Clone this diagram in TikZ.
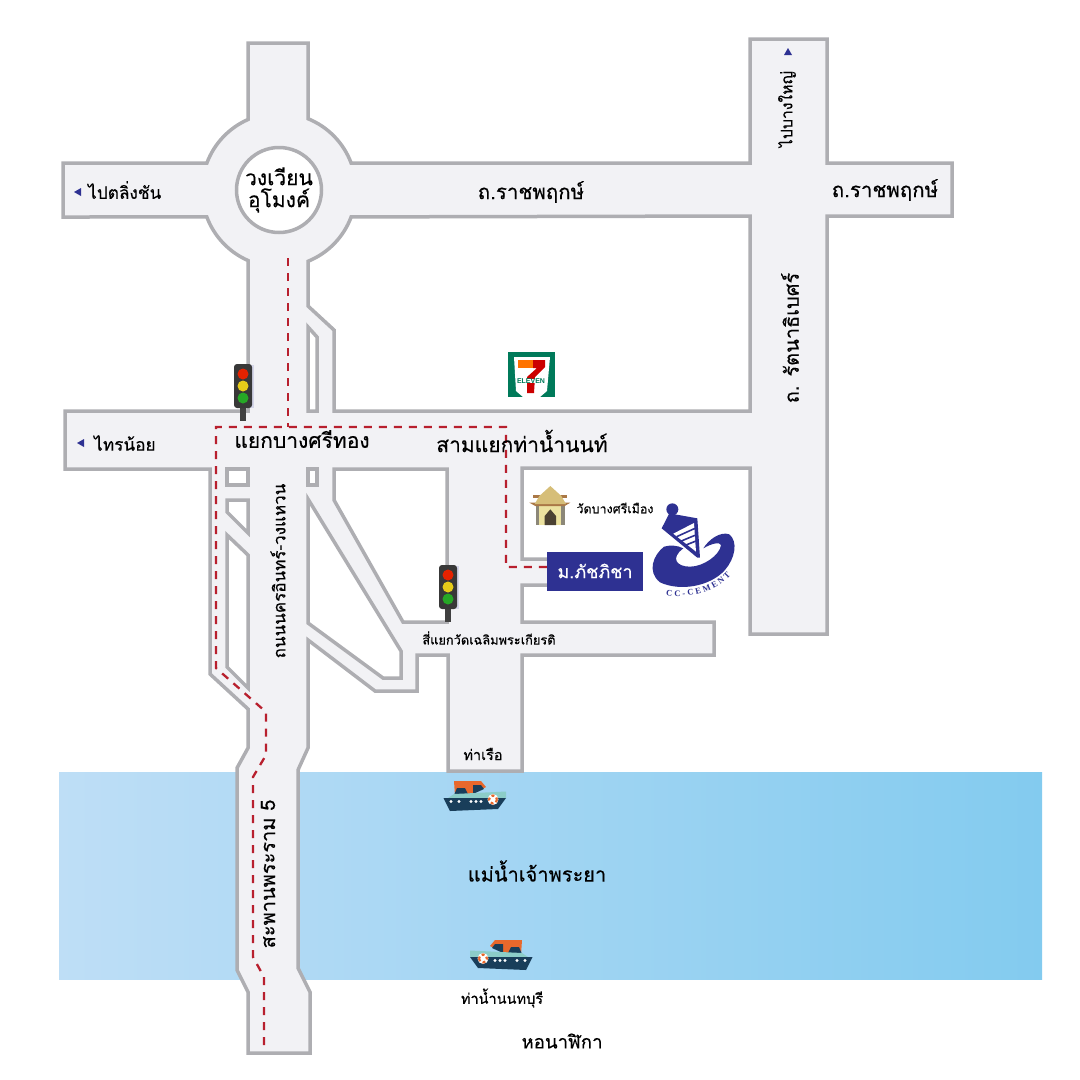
\documentclass[tikz,border=0pt]{standalone}
\usepackage{fontspec}
\setmainfont[Script=Thai,RawFeature={embolden=0.35}]{Loma}
\newfontfamily\latinbold{Liberation Sans}[BoldFont=* Bold]
\newfontfamily\latinserif{Liberation Serif}[BoldFont=* Bold]
\usetikzlibrary{decorations.text}
\definecolor{croadfill}{RGB}{242,242,245}
\definecolor{croadline}{RGB}{174,174,178}
\definecolor{criverleft}{RGB}{190,222,246}
\definecolor{criverright}{RGB}{131,203,239}
\definecolor{cschool}{RGB}{46,49,146}
\definecolor{croute}{RGB}{184,32,46}
\definecolor{cnavy}{RGB}{25,62,90}
\definecolor{corange}{RGB}{232,104,44}
\definecolor{cmint}{RGB}{140,205,200}
\definecolor{cseven}{RGB}{0,122,90}
\definecolor{croof}{RGB}{214,190,120}
\definecolor{cwall}{RGB}{236,226,160}
\definecolor{ceave}{RGB}{170,120,70}
\definecolor{ccolumn}{RGB}{140,135,120}
\definecolor{cdoor}{RGB}{75,65,50}

\tikzset{
  roadshape/.style={draw=croadline,fill=croadfill,line width=3.5pt,line join=miter},
  holeshape/.style={draw=croadline,fill=white,line width=3.5pt,line join=miter},
  routeline/.style={draw=croute,line width=2.3pt,dash pattern=on 8pt off 7pt},
  mainlabel/.style={inner sep=0pt,font=\fontsize{21}{23}\selectfont},
  sidelabel/.style={inner sep=0pt,font=\fontsize{17.2}{19}\selectfont},
  smalllabel/.style={inner sep=0pt,font=\fontsize{14.5}{17}\selectfont},
  marker/.style={fill=cschool},
  trafficlight/.pic={
    \fill[cschool!20] (-7,-21) rectangle (11,22);
    \fill[black!75] (-3,20) rectangle (3,35);
    \fill[black!78,rounded corners=3pt] (-9,-22) rectangle (9,22);
    \fill[red!70!orange!90!black] (0,-12) circle (5.5);
    \fill[yellow!80!orange!90!black] (0,0) circle (5.5);
    \fill[green!60!black!85] (0,12) circle (5.5);
  },
  boat/.pic={
    % hull, deck, cabin, buoy: local units are px from the crop corner
    \fill[corange] (24,11) -- (51,11) -- (56,17) -- (42,24) -- (36,26) -- (25,26) -- cycle;
    \fill[cnavy] (27,18) -- (35,18) -- (38,24) -- (24,25) -- cycle;
    \fill[cnavy] (43,15) -- (51,15) -- (54,19) -- (43,24) -- cycle;
    \fill[cmint] (24,24) -- (76,21.5) -- (76,28) -- (18,28) -- cycle;
    \fill[cnavy] (13.5,28) -- (76,28) -- (68,39) -- (20,41) -- cycle;
    \foreach \px in {21,29,41,46,51} {\fill[white] (\px,31.5) circle (1.6);}
    \fill[white] (63,29.5) circle (5.5);
    \draw[corange,line width=2.2pt,dash pattern=on 3pt off 2.6pt] (63,29.5) circle (4);
  },
}

\begin{document}
\begin{tikzpicture}[y=1pt,x=1pt,yscale=-1]
\useasboundingbox (0,0) rectangle (1080,1080);

  % river
  \shade[left color=criverleft,right color=criverright] (59,772) rectangle (1042,979);

  % roads
  \path[roadshape] (248,43) -- (308,43) -- (308,118.7)
    arc[start angle=-67.9,end angle=-20.5,radius=77] -- (750,163) -- (750,39)
    -- (827,39) -- (827,163) -- (952,163) -- (952,216) -- (827,216) -- (827,634)
    -- (750,634) -- (750,468) -- (522,468) -- (522,559) -- (560,559) -- (560,585)
    -- (522,585) -- (522,622) -- (714,622) -- (714,655) -- (522,655) -- (522,771)
    -- (448,771) -- (448,655) -- (417,655) -- (417,691) -- (375,691) -- (308,640)
    -- (308,748) -- (298,770) -- (298,968) -- (310,992) -- (310,1053) -- (248,1053)
    -- (248,992) -- (237,970) -- (237,768) -- (248,748) -- (248,709) -- (210,674)
    -- (210,469) -- (65,469) -- (65,411) -- (248,411) -- (248,260.5)
    arc[start angle=113.7,end angle=159.5,radius=77] -- (63,217) -- (63,163)
    -- (206.9,163) arc[start angle=200.5,end angle=246.3,radius=77] -- cycle;

  % blocks and medians
  \path[holeshape] (308,306) -- (308,261.3)
    arc[start angle=67.9,end angle=20.5,radius=77] -- (750,216) -- (750,411)
    -- (334,411) -- (334,330) -- cycle;
  \path[holeshape] (308,327) -- (317,337) -- (317,411) -- (308,411) -- cycle;
  \path[holeshape] (334,469) -- (447,469) -- (447,622) -- (403,622) -- (334,500) -- cycle;
  \path[holeshape] (308,499) -- (401,651) -- (401,678) -- (383,678) -- (308,623) -- cycle;
  \path[holeshape] (308,469) rectangle (317,485);
  \path[holeshape] (227,469) rectangle (248,485);
  \path[holeshape] (227,500) -- (248,500) -- (248,533) -- (227,512) -- cycle;
  \path[holeshape] (227,535) -- (248,555) -- (248,688) -- (227,667) -- cycle;

  \node[circle,draw=croadline,fill=white,line width=3.5pt,minimum size=85pt,inner sep=0pt,
    align=center,font=\fontsize{21}{22}\selectfont] (roundabout) at (279,190) {วงเวียน\\อุโมงค์};

  \node[fill=cschool,text=white,minimum width=96pt,minimum height=39pt,inner sep=0pt,
    font=\fontsize{18}{20}\selectfont] (school) at (595,571) {ม.ภัชภิชา};

  % route
  \coordinate (routetop) at (288,258);
  \coordinate (routejoin) at (288,427);
  \coordinate (routecorner) at (506,567);
  \coordinate (routeend) at (264,1047);
  \path[routeline] (routetop) -- (routejoin);
  \path[routeline] (school.west |- routecorner) -- (routecorner) -- (506,427) -- (216,427) -- (216,668)
    -- (266,712) -- (266,755) -- (253,777) -- (253,957) -- (264,977) -- (routeend);

  % labels
  \fill[marker] (74,192) -- (81,188) -- (81,196) -- cycle;
  \node[sidelabel,anchor=west] (taling) at (88,190) {ไปตลิ่งชัน};
  \node[mainlabel,font=\fontsize{20.5}{22}\selectfont] (rajaa) at (531,192) {ถ.ราชพฤกษ์};
  \node[mainlabel,font=\fontsize{20.5}{22}\selectfont] (rajab) at (885,190) {ถ.ราชพฤกษ์};
  \fill[marker] (788,48) -- (792,55) -- (784,55) -- cycle;
  \node[mainlabel,rotate=90,font=\fontsize{15.8}{18}\selectfont] (bangyai) at (787,109) {ไปบางใหญ่};
  \node[mainlabel,rotate=90,font=\fontsize{20}{22}\selectfont] (rattana) at (790,338) {ถ. รัตนาธิเบศร์};
  \fill[marker] (77,443) -- (84,439) -- (84,447) -- cycle;
  \node[sidelabel,anchor=west] (sainoi) at (94,443) {ไทรน้อย};
  \node[mainlabel] (bangsi) at (302,439) {แยกบางศรีทอง};
  \node[mainlabel] (thanam) at (522,441) {สามแยกท่าน้ำนนท์};
  \node[mainlabel,rotate=90,font=\fontsize{17}{19}\selectfont] (nakhon) at (278,571) {ถนนนครอินทร์-วงแหวน};
  \node[smalllabel,font=\fontsize{12.5}{15}\selectfont] (watname) at (615,508) {วัดบางศรีเมือง};
  \node[mainlabel,font=\fontsize{12.8}{15}\selectfont] (chaloem) at (489,638) {สี่แยกวัดเฉลิมพระเกียรติ};
  \node[smalllabel] (pier) at (483,754) {ท่าเรือ};
  \node[mainlabel,rotate=90,font=\fontsize{20}{22}\selectfont] (bridge) at (268,874) {สะพานพระราม 5};
  \node[mainlabel,font=\fontsize{20}{22}\selectfont] (river) at (537,871) {แม่น้ำเจ้าพระยา};
  \node[smalllabel] (nonpier) at (502,998) {ท่าน้ำนนทบุรี};
  \node[mainlabel,font=\fontsize{18.6}{20}\selectfont] (clock) at (562,1041) {หอนาฬิกา};

  % traffic lights
  \pic[yscale=-1] at (243,386) {trafficlight};
  \pic[yscale=-1] at (448,587) {trafficlight};

  % boats
  \pic[yscale=-1] at (430,770) {boat};
  \pic[xscale=-1,yscale=-1] at (546,929) {boat};

  % 7-eleven
  \fill[cseven] (508,352) rectangle (555,397);
  \fill[white] (514,357) -- (550,357) -- (547,391) -- (540,397) -- (523,397) -- (516,391) -- cycle;
  \fill[orange!90!red] (518,360) rectangle (533,368);
  \fill[red!80!black] (533,360) -- (545,360) -- (545,367) -- (535,377) -- (534,393) -- (527,393)
    -- (527,377) -- (537,368) -- (533,368) -- cycle;
  \node[inner sep=0pt,fill=white,text=cseven,font=\latinbold\bfseries\fontsize{7}{8}\selectfont] (seven) at (531,381) {ELEVEN};

  % temple
  \begin{scope}[shift={(522,480)},scale=0.3333]
    \fill[cwall] (42,70) rectangle (128,135);
    \fill[ccolumn] (42,70) rectangle (52,135);
    \fill[ccolumn] (118,70) rectangle (128,135);
    \fill[ceave] (22,68) -- (145,68) -- (128,78) -- (40,78) -- cycle;
    \fill[ceave] (34,45) -- (135,45) -- (135,55) -- (34,55) -- cycle;
    \fill[croof] (85,18) -- (118,48) -- (132,72) -- (38,72) -- (52,48) -- cycle;
    \fill[cdoor] (68,135) -- (68,108) -- (85,88) -- (102,108) -- (102,135) -- cycle;
  \end{scope}

  % logo
  \begin{scope}[shift={(640,495)},scale=0.3333]
    \fill[cschool] (97,43) circle (18);
    \fill[cschool] (65,100) -- (88,55) -- (172,70) -- (180,188) -- (172,188) -- cycle;
    \fill[white] (100,116) -- (162,84) -- (168,170) -- cycle;
    \draw[cschool,line width=1.6pt] (110,125) -- (165,100);
    \draw[cschool,line width=1.6pt] (124,138) -- (167,120);
    \draw[cschool,line width=1.6pt] (138,150) -- (168,138);
    \fill[cschool] (72,155) .. controls (40,180) and (20,230) .. (60,262)
      .. controls (120,290) and (210,275) .. (255,225)
      .. controls (285,190) and (295,140) .. (268,118)
      .. controls (240,108) and (205,135) .. (190,160)
      .. controls (215,145) and (240,140) .. (243,150)
      .. controls (240,180) and (190,215) .. (150,215)
      .. controls (110,215) and (90,190) .. (130,160)
      .. controls (110,150) and (90,150) .. (72,155) -- cycle;
    \path[decorate,decoration={text along path,text align={fit to path},
      text={|\latinserif\bfseries\fontsize{8.5}{10}\selectfont\color{cschool}|CC-CEMENT}}]
      (78,300) .. controls (135,312) and (225,295) .. (272,240);
  \end{scope}

\end{tikzpicture}
\end{document}
